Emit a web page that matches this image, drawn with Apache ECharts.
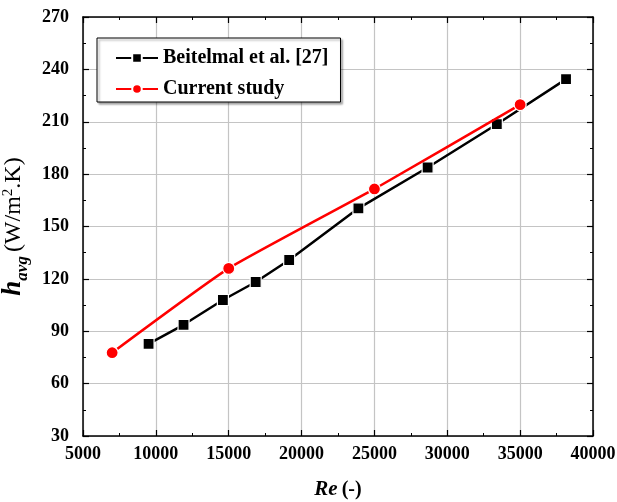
<!DOCTYPE html>
<html>
<head>
    <meta charset="UTF-8">
    <title>h_avg vs Re</title>
    <script src="https://cdn.jsdelivr.net/npm/echarts@6/dist/echarts.min.js"></script>
    <style>
        body { margin: 0; background: #fff; }
        #chart { width: 617px; height: 502px; }
    </style>
</head>
<body>
    <div id="chart"></div>
    <script>
    // data
    const beitelmalRe = [9500, 11900, 14600, 16850, 19150, 23900, 28650, 33400, 38150];
    const beitelmalH  = [82.8, 93.7, 107.9, 118.2, 130.8, 160.4, 183.8, 208.6, 234.4];
    const currentRe = [7000, 15000, 25000, 35000];
    const currentH  = [77.7, 126.0, 171.5, 219.8];
    const seriesNames = ['Beitelmal et al. [27]', 'Current study'];
    const xTicks = [5000, 10000, 15000, 20000, 25000, 30000, 35000, 40000];
    const yTicks = [30, 60, 90, 120, 150, 180, 210, 240, 270];

    const font = '"Liberation Serif", "Times New Roman", serif';

    function pairs(xs, ys) {
        return xs.map(function (x, i) { return [x, ys[i]]; });
    }

    const chart = echarts.init(document.getElementById('chart'));

    const tickLabel = { color: '#000', fontFamily: font, fontWeight: 'bold', fontSize: 18, formatter: function (v) { return String(v); } };
    const axisLine = { show: true, onZero: false, lineStyle: { color: '#000', width: 1.5 } };
    const ticks = { show: true, inside: true, length: 6, lineStyle: { color: '#000', width: 1.2 } };
    const minor = { show: true, splitNumber: 2, length: 3, lineStyle: { color: '#000', width: 1 } };

    const option = {
        backgroundColor: '#fff',
        animation: false,
        grid: { left: 83, right: 24, top: 17, bottom: 66, outerBoundsMode: 'none', containLabel: false },
        legend: {
            orient: 'vertical',
            left: 97,
            top: 38,
            padding: [10, 12, 3, 18],
            itemWidth: 42,
            itemHeight: 12,
            itemGap: 11,
            borderColor: '#000',
            borderWidth: 1,
            backgroundColor: '#fff',
            shadowColor: 'rgba(0,0,0,0.35)',
            shadowOffsetX: 2,
            shadowOffsetY: 2,
            shadowBlur: 2,
            textStyle: { color: '#000', fontFamily: font, fontWeight: 'bold', fontSize: 20, lineHeight: 20 },
            data: seriesNames
        },
        xAxis: [{
            type: 'value',
            position: 'bottom',
            min: xTicks[0],
            max: xTicks[xTicks.length - 1],
            interval: 5000,
            axisLine: axisLine,
            axisTick: ticks,
            minorTick: minor,
            axisLabel: Object.assign({ margin: 9 }, tickLabel),
            splitLine: { show: true, lineStyle: { color: '#c4c4c4', width: 1.2 } },
            name: '{it|Re}{txt|(-)}',
            nameLocation: 'middle',
            nameGap: 43,
            nameTextStyle: {
                fontFamily: font,
                fontWeight: 'bold',
                fontSize: 20,
                color: '#000',
                rich: {
                    it: { fontFamily: font, fontWeight: 'bold', fontStyle: 'italic', fontSize: 21, color: '#000', padding: [0, 4, 0, 0] },
                    txt: { fontFamily: font, fontWeight: 'bold', fontStyle: 'normal', fontSize: 20, color: '#000' }
                }
            }
        }, {
            type: 'value',
            position: 'top',
            min: xTicks[0],
            max: xTicks[xTicks.length - 1],
            interval: 5000,
            axisLine: axisLine,
            axisTick: ticks,
            minorTick: minor,
            axisLabel: { show: false },
            splitLine: { show: false }
        }],
        yAxis: [{
            type: 'value',
            position: 'left',
            min: yTicks[0],
            max: yTicks[yTicks.length - 1],
            interval: 30,
            axisLine: axisLine,
            axisTick: ticks,
            minorTick: minor,
            axisLabel: Object.assign({ margin: 14 }, tickLabel),
            splitLine: { show: true, lineStyle: { color: '#c4c4c4', width: 1.2 } },
            name: '{h|h}{sub|avg}{txt|(W/m}{sup|2}{txt|.K)}',
            nameLocation: 'middle',
            nameRotate: 90,
            nameGap: 33,
            nameTextStyle: {
                fontFamily: font,
                fontSize: 24,
                color: '#000',
                rich: {
                    h: { fontFamily: font, fontWeight: 'bold', fontStyle: 'italic', fontSize: 27, color: '#000', lineHeight: 26, verticalAlign: 'bottom' },
                    sub: { fontFamily: font, fontWeight: 'bold', fontStyle: 'italic', fontSize: 17, color: '#000', lineHeight: 26, verticalAlign: 'bottom', padding: [0, 4, -5, 0] },
                    txt: { fontFamily: font, fontWeight: 'normal', fontStyle: 'normal', fontSize: 24, color: '#000', lineHeight: 26, verticalAlign: 'bottom' },
                    sup: { fontFamily: font, fontWeight: 'normal', fontStyle: 'normal', fontSize: 15, color: '#000', lineHeight: 26, verticalAlign: 'top' }
                }
            }
        }, {
            type: 'value',
            position: 'right',
            min: yTicks[0],
            max: yTicks[yTicks.length - 1],
            interval: 30,
            axisLine: axisLine,
            axisTick: ticks,
            minorTick: minor,
            axisLabel: { show: false },
            splitLine: { show: false }
        }],
        series: [{
            name: seriesNames[0],
            type: 'line',
            data: pairs(beitelmalRe, beitelmalH),
            symbol: 'rect',
            symbolSize: 11,
            lineStyle: { color: '#000', width: 2.5 },
            itemStyle: { color: '#000', borderColor: '#fff', borderWidth: 1.2 },
            z: 3
        }, {
            name: seriesNames[1],
            type: 'line',
            data: pairs(currentRe, currentH),
            symbol: 'circle',
            symbolSize: 12,
            smooth: 0.15,
            lineStyle: { color: '#ff0000', width: 2.5 },
            itemStyle: { color: '#ff0000', borderColor: '#fff', borderWidth: 1.2 },
            z: 4
        }]
    };

    chart.setOption(option);
    </script>
</body>
</html>
